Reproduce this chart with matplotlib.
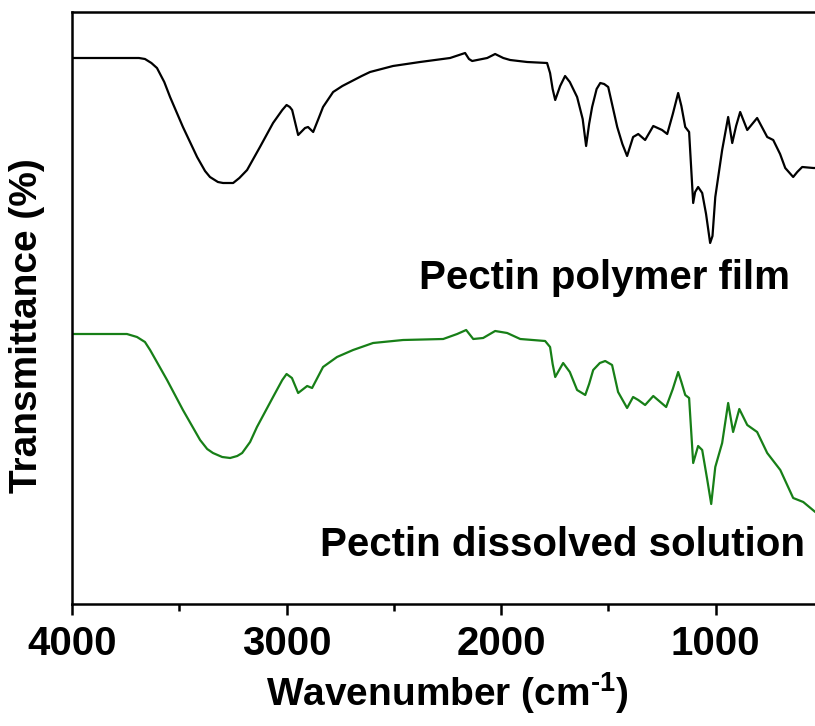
import numpy as np
import matplotlib
matplotlib.use('Agg')
import matplotlib.pyplot as plt

plt.rcParams['font.family'] = ['Liberation Sans', 'DejaVu Sans']
plt.rcParams['font.weight'] = 'bold'
plt.rcParams['mathtext.fontset'] = 'custom'
plt.rcParams['mathtext.rm'] = 'Liberation Sans:bold'
plt.rcParams['mathtext.default'] = 'rm'

# wavenumber (cm-1) and transmittance (arbitrary units, offset)
film_wn = [4000, 3688, 3660, 3630, 3604, 3570, 3543, 3483, 3417, 3380, 3357, 3320,
           3296, 3249, 3220, 3184, 3124, 3063, 3020, 3000, 2985, 2974, 2946, 2914,
           2900, 2876, 2850, 2830, 2783, 2740, 2704, 2650, 2611, 2504, 2378, 2238,
           2168, 2150, 2135, 2065, 2028, 1990, 1958, 1879, 1786, 1772, 1760, 1748,
           1725, 1702, 1680, 1646, 1620, 1604, 1590, 1576, 1555, 1538, 1520, 1501,
           1459, 1435, 1413, 1385, 1361, 1329, 1291, 1250, 1226, 1200, 1175, 1160,
           1142, 1124, 1105, 1096, 1082, 1063, 1045, 1026, 1015, 1002, 970, 942,
           923, 905, 886, 853, 807, 760, 732, 700, 676, 639, 620, 597, 545, 500]
film_t = [546, 546, 545, 541, 536, 522, 507, 477, 447, 433, 427, 422,
          421, 421, 426, 434, 457, 481, 494, 499, 497, 494, 469, 476,
          477, 472, 486, 497, 512, 518, 522, 528, 532, 538, 542, 546,
          551, 545, 543, 546, 550, 546, 544, 542, 541, 531, 515, 504,
          518, 528, 522, 507, 485, 458, 480, 497, 515, 521, 520, 517,
          477, 460, 448, 467, 470, 464, 478, 474, 470, 490, 511, 498,
          477, 472, 401, 412, 417, 411, 390, 361, 368, 407, 454, 487,
          461, 478, 492, 474, 486, 467, 464, 450, 436, 427, 432, 437, 436, 436]

sol_wn = [4000, 3744, 3697, 3660, 3636, 3557, 3483, 3403, 3370, 3343, 3300, 3263,
          3230, 3207, 3170, 3138, 3063, 3020, 3000, 2975, 2946, 2904, 2881, 2830,
          2765, 2690, 2597, 2457, 2270, 2205, 2163, 2130, 2084, 2028, 1972, 1911,
          1795, 1772, 1760, 1748, 1711, 1680, 1646, 1608, 1590, 1571, 1540, 1515,
          1483, 1455, 1413, 1385, 1361, 1329, 1291, 1231, 1200, 1175, 1160, 1142,
          1124, 1105, 1082, 1063, 1040, 1021, 1002, 970, 942, 919, 890, 853,
          807, 760, 699, 639, 592, 536, 500]
sol_t = [270, 270, 267, 262, 254, 224, 194, 164, 155, 151, 147, 146,
         148, 151, 162, 177, 207, 224, 230, 226, 211, 218, 216, 237,
         247, 254, 261, 264, 265, 270, 274, 265, 266, 273, 271, 265,
         263, 257, 240, 227, 241, 232, 214, 209, 220, 234, 241, 243,
         239, 212, 196, 207, 204, 199, 208, 197, 215, 232, 222, 209,
         206, 141, 158, 154, 125, 100, 137, 161, 201, 172, 195, 179,
         172, 151, 134, 106, 102, 92, 89]

fig = plt.figure(figsize=(8.15, 7.26), dpi=100)
ax = fig.add_axes([72/815, 122/726, 751/815, 592/726])

ax.plot(film_wn, film_t, color='black', lw=1.6)
ax.plot(sol_wn, sol_t, color='#177f17', lw=1.6)

ax.set_xlim(4000, 500)
ax.set_ylim(0, 592)
ax.set_yticks([])
ax.set_xticks([4000, 3000, 2000, 1000])
ax.set_xticks([3500, 2500, 1500], minor=True)
ax.tick_params(axis='x', which='major', length=8, width=1.8, labelsize=29, pad=7)
ax.tick_params(axis='x', which='minor', length=5, width=1.8)
for s in ax.spines.values():
    s.set_linewidth(1.8)

ax.set_xlabel('Wavenumber (cm$^{\\text{-}1}$)', fontsize=28, fontweight='bold', labelpad=5)
ax.set_ylabel('Transmittance (%)', fontsize=28, fontweight='bold')
ax.yaxis.set_label_coords(-0.036, 0.471)

ax.text(0.956, 0.55, 'Pectin polymer film', transform=ax.transAxes,
        ha='right', va='center', fontsize=29, fontweight='bold')
ax.text(0.976, 0.1, 'Pectin dissolved solution', transform=ax.transAxes,
        ha='right', va='center', fontsize=29, fontweight='bold')

fig.savefig('out.png', dpi=100)
